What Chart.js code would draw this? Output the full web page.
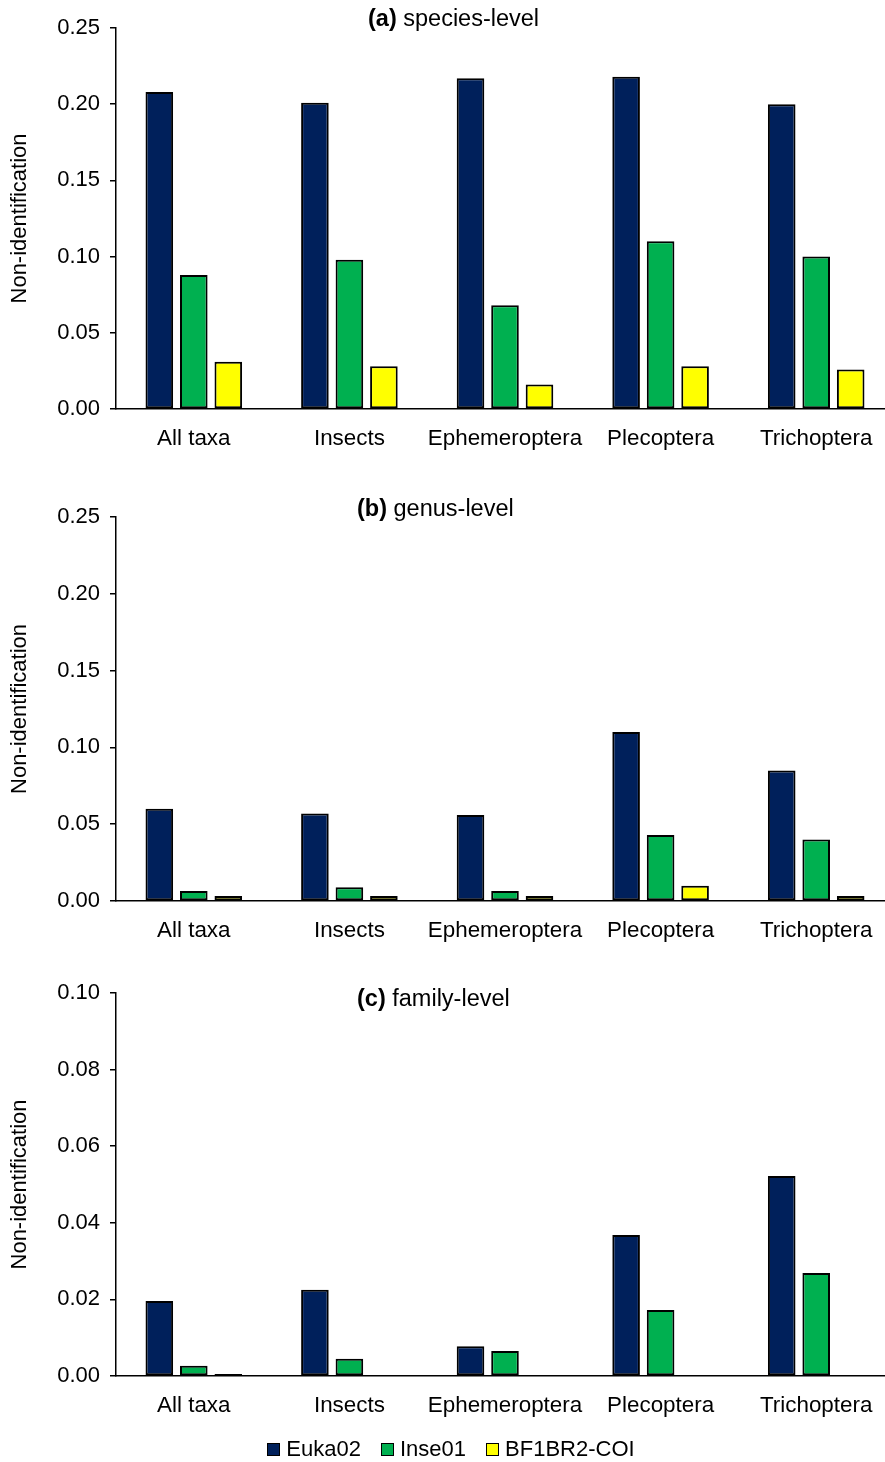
<!DOCTYPE html>
<html>
<head>
<meta charset="utf-8">
<script src="https://cdn.jsdelivr.net/npm/chart.js@4.4.1/dist/chart.umd.min.js"></script>
<style>
  body { margin: 0; background: #fff; overflow: hidden; }
  #wrap { position: relative; width: 885px; height: 1462px; overflow: hidden; font-family: "Liberation Sans", Arial, sans-serif; }
  canvas { position: absolute; left: 0; }
  #legend { position: absolute; left: 0; top: 1436px; width: 885px; display: flex; justify-content: center; padding-left: 17px; box-sizing: border-box; font-size: 22px; color: #000; }
  .item { display: flex; align-items: center; margin: 0 10px; }
  .box { width: 11px; height: 11px; border: 1.5px solid #000; margin-right: 6px; }
</style>
</head>
<body>
<div id="wrap">
  <canvas id="chartA" width="894" height="470" style="top:0px"></canvas>
  <canvas id="chartB" width="894" height="482" style="top:480px"></canvas>
  <canvas id="chartC" width="894" height="475" style="top:962px"></canvas>
  <div id="legend"></div>
</div>
<script>
// Data
const categories = ['All taxa', 'Insects', 'Ephemeroptera', 'Plecoptera', 'Trichoptera'];
const seriesNames = ['Euka02', 'Inse01', 'BF1BR2-COI'];
const seriesColors = ['#00205b', '#00b050', '#ffff00'];

const speciesEuka = [0.208, 0.201, 0.217, 0.218, 0.200];
const speciesInse = [0.088, 0.098, 0.068, 0.110, 0.100];
const speciesBF = [0.031, 0.028, 0.016, 0.028, 0.026];

const genusEuka = [0.060, 0.057, 0.056, 0.110, 0.085];
const genusInse = [0.0065, 0.009, 0.0065, 0.043, 0.040];
const genusBF = [0.0032, 0.0032, 0.0032, 0.010, 0.0032];

const familyEuka = [0.0196, 0.0225, 0.0078, 0.0368, 0.0522];
const familyInse = [0.0027, 0.0045, 0.0065, 0.0172, 0.0269];
const familyBF = [0.0005, 0, 0, 0, 0];

const FONT = '"Liberation Sans", Arial, sans-serif';

// Panel title: bold letter followed by normal text
const panelTitle = {
  id: 'panelTitle',
  afterDraw(chart) {
    const t = chart.options.plugins.panelTitle;
    if (!t) return;
    const ctx = chart.ctx;
    ctx.save();
    ctx.fillStyle = '#000';
    ctx.textBaseline = 'middle';
    ctx.textAlign = 'left';
    ctx.font = 'bold 23.5px ' + FONT;
    ctx.fillText(t.letter, t.x, t.y);
    const w = ctx.measureText(t.letter + ' ').width;
    ctx.font = '23.5px ' + FONT;
    ctx.fillText(t.text, t.x + w, t.y);
    ctx.restore();
  }
};

function makeChart(id, values, yMax, yStep, title, topPad) {
  const datasets = values.map((v, i) => ({
    label: seriesNames[i],
    data: v,
    backgroundColor: seriesColors[i],
    borderColor: '#000',
    borderWidth: 2,
    borderSkipped: false,
    categoryPercentage: 0.665,
    barPercentage: 0.8
  }));

  return new Chart(document.getElementById(id), {
    type: 'bar',
    data: { labels: categories, datasets: datasets },
    plugins: [panelTitle],
    options: {
      responsive: false,
      animation: false,
      layout: { padding: { top: topPad, right: 0, left: 0, bottom: 0 } },
      scales: {
        x: {
          grid: { display: false, drawTicks: false },
          border: { display: true, color: '#000', width: 1.5 },
          ticks: { color: '#000', font: { family: FONT, size: 22.4 }, padding: 16, maxRotation: 0, autoSkip: false },
          afterFit: (scale) => { scale.height = 61; }
        },
        y: {
          min: 0,
          max: yMax,
          grid: { drawOnChartArea: false, drawTicks: true, tickLength: 6, color: '#000', lineWidth: 1.5 },
          border: { display: true, color: '#000', width: 1.5 },
          ticks: {
            stepSize: yStep,
            color: '#000',
            padding: 10,
            font: { family: FONT, size: 22 },
            callback: (v) => v.toFixed(2)
          },
          title: {
            display: true,
            text: 'Non-identification',
            color: '#000',
            font: { family: FONT, size: 22 },
            padding: { top: 7, bottom: 0 }
          },
          afterFit: (scale) => { scale.width = 116; }
        }
      },
      plugins: {
        legend: { display: false },
        tooltip: { enabled: false },
        panelTitle: title
      }
    }
  });
}

makeChart('chartA', [speciesEuka, speciesInse, speciesBF], 0.25, 0.05,
  { letter: '(a)', text: 'species-level', x: 368, y: 20 }, 28);
makeChart('chartB', [genusEuka, genusInse, genusBF], 0.25, 0.05,
  { letter: '(b)', text: 'genus-level', x: 357, y: 30 }, 37);
makeChart('chartC', [familyEuka, familyInse, familyBF], 0.10, 0.02,
  { letter: '(c)', text: 'family-level', x: 357, y: 38 }, 31);

// Legend
const legend = document.getElementById('legend');
seriesNames.forEach((name, i) => {
  const item = document.createElement('div');
  item.className = 'item';
  const box = document.createElement('div');
  box.className = 'box';
  box.style.background = seriesColors[i];
  const label = document.createElement('span');
  label.textContent = name;
  item.appendChild(box);
  item.appendChild(label);
  legend.appendChild(item);
});
</script>
</body>
</html>
